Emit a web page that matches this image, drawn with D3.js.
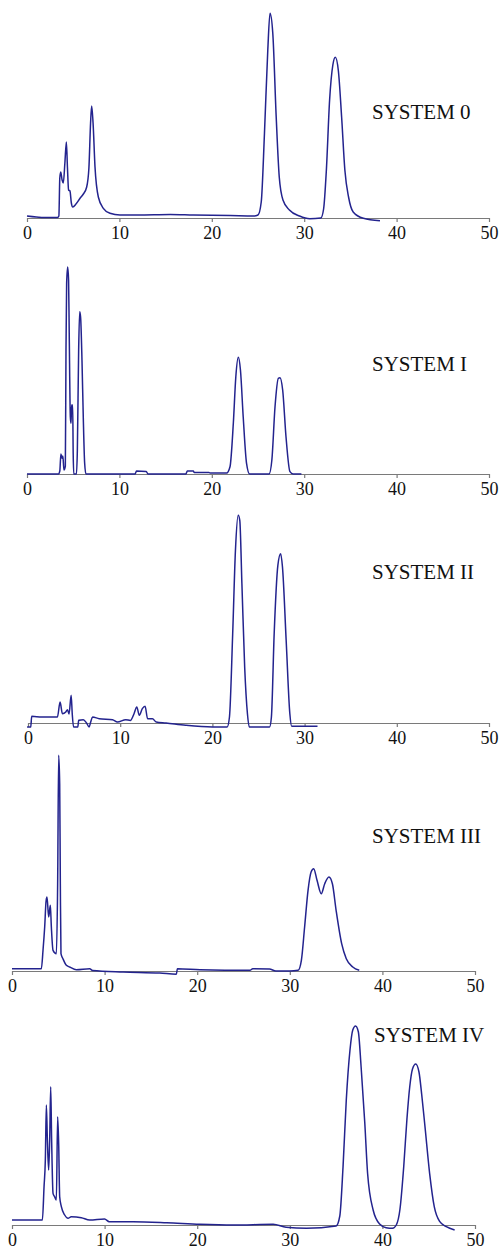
<!DOCTYPE html>
<html>
<head>
<meta charset="utf-8">
<script src="https://cdn.jsdelivr.net/npm/d3@7"></script>
<style>
  html, body { margin: 0; padding: 0; background: #fff; }
  svg { display: block; }
  text { font-family: "Liberation Serif", "Times New Roman", Times, serif; }
</style>
</head>
<body>
<svg id="chart" width="502" height="1251"></svg>
<script>
// Retention time (min) vs detector signal for five chromatographic systems.
const systemNames = ["SYSTEM 0", "SYSTEM I", "SYSTEM II", "SYSTEM III", "SYSTEM IV"];
const xTicks = [0, 10, 20, 30, 40, 50];

const sys0 = [
  [0, 2], [1, 1], [2, 0.5], [3.3, 0.5], [3.45, 2], [3.55, 40], [3.65, 46], [3.8, 38], [3.93, 35],
  [4.1, 55], [4.26, 76], [4.38, 50], [4.5, 28], [4.65, 27], [4.8, 15], [4.95, 11], [5.3, 14],
  [5.74, 19.7], [6.1, 24], [6.46, 31], [6.7, 50], [6.88, 95], [7.0, 112], [7.15, 95], [7.36, 51],
  [7.72, 21], [8.26, 9.7], [8.98, 4.7], [10.06, 3], [12, 3], [15.5, 3.5], [18, 3], [22, 2.5],
  [24.5, 2], [25.0, 3], [25.35, 16], [25.7, 84.7], [26.06, 168], [26.3, 204.7], [26.6, 184.7],
  [26.97, 101], [27.3, 41], [27.7, 18], [28.4, 8], [29.5, 2], [30.6, -0.7], [31.8, 0],
  [32.1, 9], [32.4, 48], [32.75, 118], [33.1, 153], [33.37, 160.7], [33.7, 147], [34.05, 101],
  [34.4, 48], [34.8, 21], [35.3, 6], [36.4, -0.3], [38.2, -2.7]
];

const sys1 = [
  [0, 0], [3.4, 0], [3.55, 3], [3.67, 20], [3.78, 15.7], [3.88, 18], [4.0, 4], [4.15, 8],
  [4.22, 124], [4.29, 190.7], [4.4, 207], [4.5, 194], [4.57, 140.7], [4.69, 57], [4.76, 50.7],
  [4.83, 69], [4.94, 69], [5.0, 20], [5.06, 0], [5.35, 0], [5.45, 24], [5.59, 124], [5.7, 162.3],
  [5.8, 157], [5.95, 114], [6.09, 57], [6.24, 10.7], [6.38, 0], [11.7, 0], [11.85, 3], [12.9, 2.5],
  [13.1, 0], [17.2, 0], [17.35, 3], [18.0, 3], [18.1, 1.5], [19.7, 1.5], [19.8, 1], [21.6, 1],
  [21.97, 7.3], [22.33, 50.7], [22.6, 97.3], [22.87, 116.7], [23.1, 104], [23.4, 57], [23.76, 10.7],
  [24.1, 0], [26.2, 0], [26.5, 14], [26.84, 67], [27.2, 95.7], [27.38, 96.3], [27.67, 84],
  [28.03, 37.3], [28.46, 2.3], [28.8, 0], [29.7, 0]
];

const sys2 = [
  [-0.1, -4], [0.3, -4], [0.4, 6.7], [1.5, 6], [3.19, 6], [3.48, 21], [3.73, 9.3], [4.1, 11],
  [4.28, 13.3], [4.45, 9], [4.68, 27.7], [4.8, 9], [4.94, -4], [5.4, -4], [5.5, 2.7], [6.0, 3.3],
  [6.35, 0], [6.63, -4], [6.8, 1], [7.0, 6], [7.72, 4.3], [9.17, 3.3], [9.7, 1], [10.6, 3.3],
  [11.1, 2.5], [11.5, 9.3], [11.8, 16], [12.07, 7.7], [12.4, 14.3], [12.7, 16.7], [12.97, 4.3],
  [13.5, 4.3], [13.9, 1], [14.97, 0], [17.1, -2.3], [20.0, -4], [21.6, -4], [21.85, 6],
  [22.2, 89.3], [22.5, 172.7], [22.8, 207.7], [22.97, 202.7], [23.2, 139.3], [23.5, 56],
  [23.8, 9.3], [24.0, -4], [26.2, -4], [26.4, 6], [26.7, 89.3], [27.1, 157.7], [27.4, 169.3],
  [27.6, 156], [28.0, 82.7], [28.4, 9.3], [28.6, -3.3], [31.4, -3.3]
];

const sys3 = [
  [0, 2.3], [3.17, 2.3], [3.35, 20.7], [3.53, 44], [3.68, 70], [3.78, 74], [3.96, 54],
  [4.14, 65.7], [4.25, 44], [4.43, 20.7], [4.79, 17.3], [4.93, 87.3], [5.04, 215.7], [5.15, 187.3],
  [5.22, 87.3], [5.29, 17.3], [5.5, 12.3], [5.87, 5.7], [6.23, 4], [6.95, 1.3], [8.39, 2.3],
  [8.7, 0.5], [12.0, -1], [15.95, -2], [17.75, -3.3], [17.86, 2.3], [20.3, 1.3], [25.7, 0.7],
  [26.0, 2.3], [27.8, 2], [28.5, 0], [30.0, 0], [30.9, 0.7], [31.25, 10.7], [31.6, 44],
  [31.97, 80.7], [32.3, 99], [32.58, 102.3], [32.94, 90.7], [33.4, 77.3], [33.77, 87.3],
  [34.23, 94], [34.6, 87.3], [35.0, 60.7], [35.6, 27.3], [36.1, 12.3], [36.8, 4], [37.5, 0.7]
];

const sys4 = [
  [0, 5], [1.5, 5], [3.28, 5], [3.46, 38.3], [3.6, 65], [3.71, 120], [3.82, 85], [3.96, 55],
  [4.07, 85], [4.18, 138.3], [4.28, 85], [4.43, 31.7], [4.6, 28.3], [4.79, 25], [4.93, 108.3],
  [5.04, 81.7], [5.15, 28.3], [5.33, 18.3], [5.69, 10], [6.05, 6.7], [6.4, 8.3], [7.49, 7.3],
  [8.39, 5], [10.0, 6], [10.5, 3.3], [13.07, 3.3], [16.7, 2.3], [20.3, 0.7], [23.9, 0],
  [28.2, 0.7], [29.6, -2.3], [31.8, -3.3], [35.0, -1], [35.4, 9], [35.75, 58.3], [36.1, 125],
  [36.5, 175], [36.8, 195], [37.1, 199], [37.4, 193.3], [37.7, 158.3], [38.1, 101.7], [38.4, 51.7],
  [39.0, 15], [39.7, 1], [40.4, -2.7], [41.1, -3.3], [41.5, 0], [41.9, 16], [42.3, 58],
  [42.65, 106], [42.95, 138], [43.25, 156], [43.6, 161], [43.95, 153], [44.25, 130],
  [44.6, 98.3], [45.1, 51.7], [45.6, 18.3], [46.2, 3.3], [46.9, -1.7], [47.8, -5]
];

const traces = [sys0, sys1, sys2, sys3, sys4];

// Panel geometry: x-axis pixel span and baseline position of each panel.
const panels = [
  { x0: 27, x1: 489, base: 218, labelX: 372, labelY: 119 },
  { x0: 27, x1: 489, base: 474, labelX: 372, labelY: 371 },
  { x0: 28, x1: 489, base: 723, labelX: 372, labelY: 579 },
  { x0: 12, x1: 475, base: 971, labelX: 372, labelY: 843 },
  { x0: 12, x1: 475, base: 1225, labelX: 374, labelY: 1042 }
];

const svg = d3.select("#chart");
const lineColor = "#23238e";
const serif = "'Liberation Serif', 'Times New Roman', Times, serif";

panels.forEach((p, i) => {
  const g = svg.append("g");
  const x = d3.scaleLinear().domain([0, 50]).range([p.x0, p.x1]);
  const y = d3.scaleLinear().domain([0, 200]).range([p.base, p.base - 200]);

  const axis = d3.axisBottom(x).tickValues(xTicks).tickSize(4).tickSizeOuter(0)
    .tickFormat(d3.format("d"));
  const ax = g.append("g").attr("transform", `translate(0,${p.base})`).call(axis)
    .attr("font-family", serif).attr("font-size", 18);
  ax.select(".domain").attr("stroke", "#7a7a7a").attr("stroke-width", 1.2);
  ax.selectAll(".tick line").attr("stroke", "#7a7a7a").attr("stroke-width", 1.2);
  ax.selectAll(".tick text")
    .attr("fill", "#111")
    .attr("y", 8)
    .attr("dy", "0.71em")
    .style("font-family", serif)
    .style("font-size", "18px");

  const line = d3.line()
    .x(d => x(d[0]))
    .y(d => y(d[1]))
    .curve(d3.curveMonotoneX);

  g.append("path")
    .datum(traces[i])
    .attr("fill", "none")
    .attr("stroke", lineColor)
    .attr("stroke-width", 1.5)
    .attr("stroke-linejoin", "round")
    .attr("d", line);

  g.append("text")
    .attr("x", p.labelX)
    .attr("y", p.labelY)
    .attr("fill", "#111")
    .style("font-family", serif)
    .style("font-size", "21px")
    .text(systemNames[i]);
});
</script>
</body>
</html>
